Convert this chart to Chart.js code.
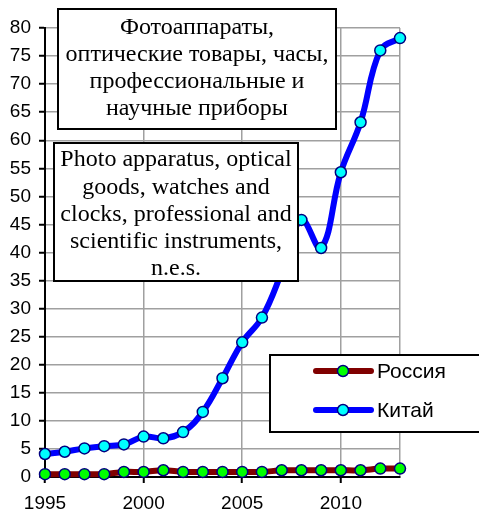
<!DOCTYPE html>
<html lang="ru">
<head>
  <meta charset="UTF-8">
  <title>Фотоаппараты, оптические товары, часы</title>
  <script src="https://cdn.jsdelivr.net/npm/chart.js"></script>
  <style>
    body {
      margin: 0;
      padding: 0;
      background: #ffffff;
    }
    #wrap {
      width: 479px;
      height: 510px;
    }
  </style>
</head>
<body>
  <div id="wrap">
    <canvas id="tradeChart" width="479" height="510"></canvas>
  </div>

  <script>
    // годы и значения по странам
    const years = [1995, 1996, 1997, 1998, 1999, 2000, 2001, 2002, 2003, 2004,
                   2005, 2006, 2007, 2008, 2009, 2010, 2011, 2012, 2013];
    const russia = [0.5, 0.5, 0.5, 0.5, 0.9, 0.9, 1.2, 0.9, 0.9, 0.9,
                    0.9, 0.9, 1.2, 1.2, 1.2, 1.2, 1.2, 1.5, 1.5];
    const china = [4.1, 4.5, 5.1, 5.5, 5.8, 7.2, 6.9, 8.0, 11.6, 17.6,
                   24.0, 28.4, 36.5, 45.8, 40.8, 54.3, 63.2, 76.0, 78.2];
    const xTicks = [1995, 2000, 2005, 2010, 2013];
    const seriesNames = ['Россия', 'Китай'];

    const titleRu = ['Фотоаппараты,', 'оптические товары, часы,', 'профессиональные и', 'научные приборы'];
    const titleEn = ['Photo apparatus, optical', 'goods, watches and', 'clocks, professional and',
                     'scientific instruments,', 'n.e.s.'];

    const toPoints = vals => vals.map((v, i) => ({ x: years[i], y: v }));

    // рамки с подписями и легенда поверх графика
    const overlayPlugin = {
      id: 'overlay',
      afterDraw(chart) {
        const ctx = chart.ctx;
        ctx.save();

        function textBox(x1, y1, x2, y2, lines, firstY, step) {
          ctx.fillStyle = '#ffffff';
          ctx.fillRect(x1, y1, x2 - x1, y2 - y1);
          ctx.strokeStyle = '#000000';
          ctx.lineWidth = 2;
          ctx.strokeRect(x1, y1, x2 - x1, y2 - y1);
          ctx.fillStyle = '#000000';
          ctx.font = '24px "Liberation Serif", "Times New Roman", serif';
          ctx.textAlign = 'center';
          ctx.textBaseline = 'middle';
          lines.forEach((t, i) => ctx.fillText(t, (x1 + x2) / 2, firstY + i * step));
        }

        textBox(58, 9, 336, 129, titleRu, 28, 27);
        textBox(54, 143, 298, 281, titleEn, 160, 27.3);

        // легенда
        ctx.fillStyle = '#ffffff';
        ctx.fillRect(270, 355, 212, 77);
        ctx.strokeStyle = '#000000';
        ctx.lineWidth = 2;
        ctx.strokeRect(270, 355, 212, 77);

        chart.data.datasets.forEach((ds, i) => {
          const y = 371 + i * 39;
          ctx.strokeStyle = ds.borderColor;
          ctx.lineWidth = 6;
          ctx.lineCap = 'round';
          ctx.beginPath();
          ctx.moveTo(316, y);
          ctx.lineTo(371, y);
          ctx.stroke();
          ctx.beginPath();
          ctx.arc(343, y, 5.5, 0, Math.PI * 2);
          ctx.fillStyle = ds.pointBackgroundColor;
          ctx.fill();
          ctx.lineWidth = 1.5;
          ctx.strokeStyle = ds.pointBorderColor;
          ctx.stroke();
          ctx.fillStyle = '#000000';
          ctx.font = '21px "Liberation Sans", Arial, sans-serif';
          ctx.textAlign = 'left';
          ctx.textBaseline = 'middle';
          ctx.fillText(ds.label, 377, y + 1);
        });

        ctx.restore();
      }
    };

    const gridStyle = {
      color: '#a0a0a0',
      lineWidth: 1.5,
      tickColor: '#000000',
      tickWidth: 2,
      tickLength: 6
    };
    const tickFont = { family: '"Liberation Sans", Arial, sans-serif', size: 19 };

    new Chart(document.getElementById('tradeChart').getContext('2d'), {
      type: 'line',
      data: {
        datasets: [
          {
            label: seriesNames[0],
            data: toPoints(russia),
            borderColor: '#800000',
            pointBackgroundColor: '#00ff00',
            pointBorderColor: '#000080',
            borderWidth: 6,
            pointRadius: 5.5,
            pointBorderWidth: 1.5,
            tension: 0.4,
            clip: false
          },
          {
            label: seriesNames[1],
            data: toPoints(china),
            borderColor: '#0000ff',
            pointBackgroundColor: '#00ffff',
            pointBorderColor: '#000080',
            borderWidth: 6,
            pointRadius: 5.5,
            pointBorderWidth: 1.5,
            tension: 0.4,
            clip: false
          }
        ]
      },
      options: {
        responsive: false,
        animation: false,
        devicePixelRatio: 1,
        layout: { padding: { top: 28, right: 79, left: 0, bottom: 0 } },
        plugins: {
          legend: { display: false },
          tooltip: { enabled: false }
        },
        scales: {
          x: {
            type: 'linear',
            min: 1995,
            max: 2013,
            afterBuildTicks: scale => {
              scale.ticks = xTicks.map(v => ({ value: v }));
            },
            afterFit: scale => { scale.height = 33; },
            grid: Object.assign({}, gridStyle, {
              tickColor: c => (c.tick && c.tick.value === 2013 ? 'rgba(0,0,0,0)' : '#000000')
            }),
            border: { color: '#000000', width: 2 },
            ticks: {
              color: '#000000',
              font: tickFont,
              padding: 9,
              maxRotation: 0,
              autoSkip: false,
              callback: v => (v === 2013 ? '' : String(v))
            }
          },
          y: {
            min: 0,
            max: 80,
            afterFit: scale => { scale.width = 45; },
            grid: gridStyle,
            border: { color: '#000000', width: 2 },
            ticks: {
              stepSize: 5,
              color: '#000000',
              font: tickFont,
              padding: 8
            }
          }
        }
      },
      plugins: [overlayPlugin]
    });
  </script>
</body>
</html>
